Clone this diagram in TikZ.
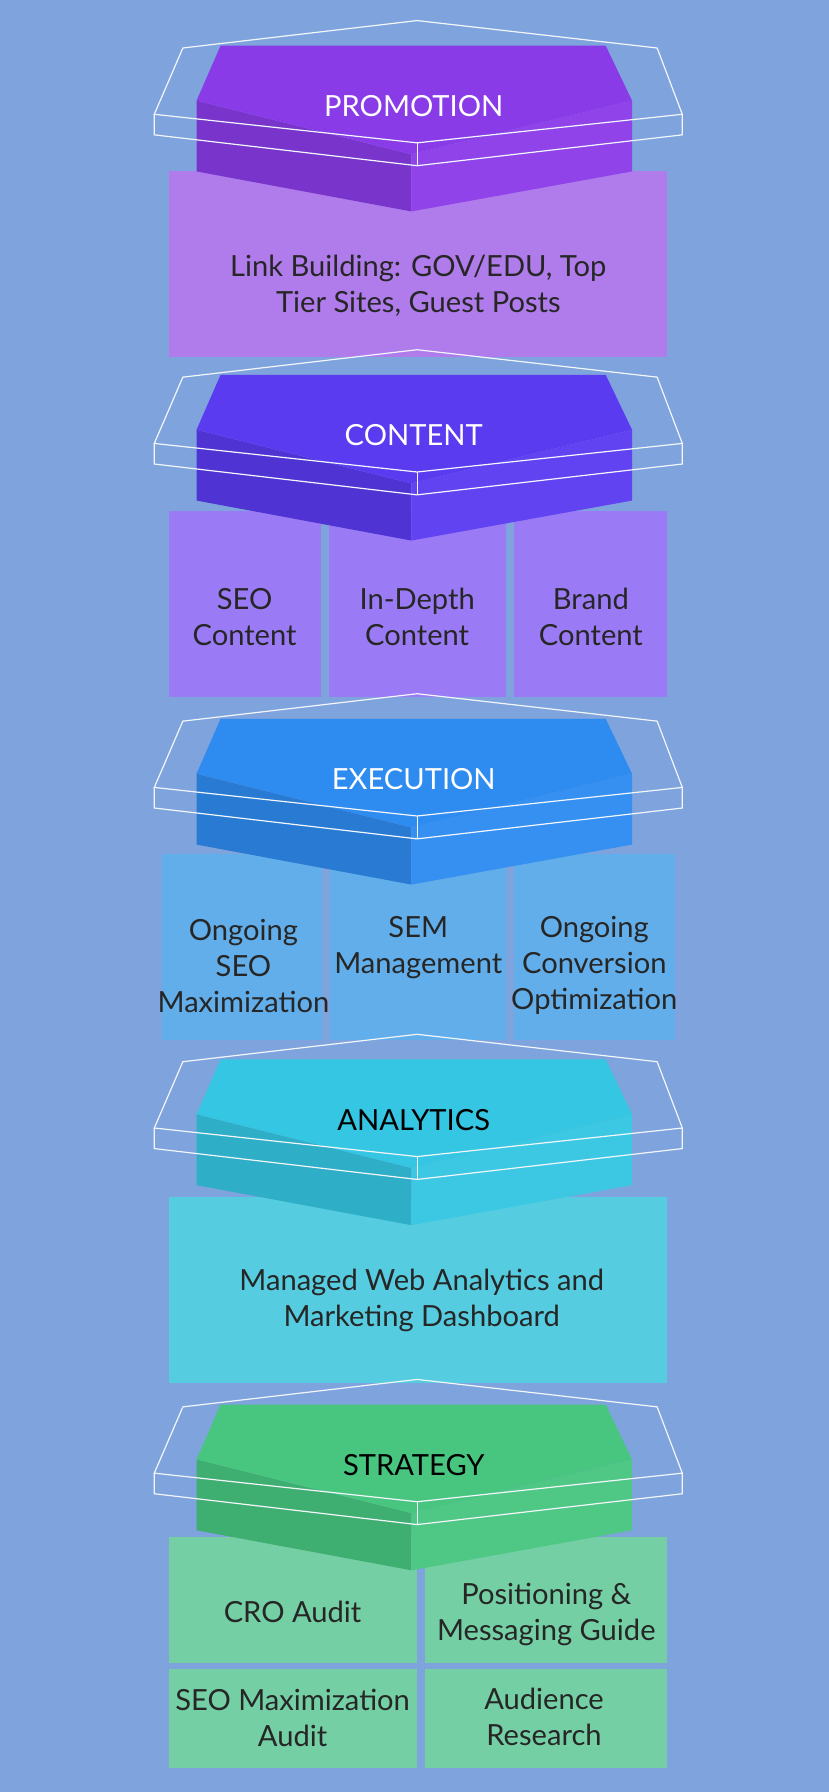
\documentclass[tikz,border=0pt]{standalone}
\usepackage{fontspec}
\setmainfont{Lato}
\usepackage{xcolor}
\definecolor{bgblue}{HTML}{7FA3DC}
\definecolor{promohex}{HTML}{8A3BE8}
\definecolor{promobox}{HTML}{B07BEA}
\definecolor{conthex}{HTML}{5B3BF0}
\definecolor{contbox}{HTML}{9B7BF5}
\definecolor{exechex}{HTML}{2E8BF0}
\definecolor{execbox}{HTML}{62AEEA}
\definecolor{analhex}{HTML}{34C6E2}
\definecolor{analbox}{HTML}{56CCE0}
\definecolor{strahex}{HTML}{48C680}
\definecolor{strabox}{HTML}{74CFA4}
\tikzset{
  boxtext/.style={align=center, text=black!85, font=\fontsize{14.5}{18}\selectfont},
  titletext/.style={font=\fontsize{14.5}{17}\selectfont},
  wire/.style={draw=white!90!bgblue, line width=0.6pt}
}
% one hexagonal slab; #1 = y of title, #2 = colour, #3 = title, #4 = title colour
\newcommand\seolayer[5]{%
  \begin{scope}[shift={(0,#1)}]
    \fill[#2!88!black] (172,-5) -- (360,42) -- (360,92) -- (172,57) -- cycle;
    \fill[#2!96!white] (360,42) -- (553,-5) -- (553,57) -- (360,92) -- cycle;
    \fill[#2] (193,-53) -- (530,-53) -- (553,-5) -- (360,42) -- (172,-5) -- cycle;
    \draw[wire] (160,-51) -- (365,-75) -- (575,-51) -- (597,7) -- (365,32) -- (135,7) -- cycle;
    \draw[wire] (135,7) -- (135,25) -- (365,52) -- (597,25) -- (597,7);
    \draw[wire] (365,32) -- (365,52);
    \node[titletext, text=#4] (#5) at (362,0) {#3};
  \end{scope}}
\begin{document}
\begin{tikzpicture}[x=0.02cm, y=-0.02cm]
  \fill[bgblue] (0,0) rectangle (725,1568);
  \useasboundingbox (0,0) rectangle (725,1568);

  % boxes
  \fill[promobox] (148,150) rectangle (584,312);
  \node[boxtext] (linkb) at (366,250) {Link Building: GOV/EDU, Top\\Tier Sites, Guest Posts};

  \fill[contbox] (148,447) rectangle (281,610);
  \fill[contbox] (288,447) rectangle (443,610);
  \fill[contbox] (450,447) rectangle (584,610);
  \node[boxtext] (seoc) at (214,540) {SEO\\Content};
  \node[boxtext] (depth) at (365,540) {In-Depth\\Content};
  \node[boxtext] (brand) at (517,540) {Brand\\Content};

  \fill[execbox] (142,747) rectangle (282,910);
  \fill[execbox] (289,747) rectangle (443,910);
  \fill[execbox] (450,747) rectangle (591,910);
  \node[boxtext] (ongseo) at (213,845) {Ongoing\\SEO\\Maximization};
  \node[boxtext] (sem) at (366,829) {SEM\\Management};
  \node[boxtext] (ongconv) at (520,845) {Ongoing\\Conversion\\Optimization};

  \fill[analbox] (148,1047) rectangle (584,1210);
  \node[boxtext] (webana) at (369,1138) {Managed Web Analytics and\\Marketing Dashboard};

  \fill[strabox] (148,1345) rectangle (365,1455);
  \fill[strabox] (372,1345) rectangle (584,1455);
  \fill[strabox] (148,1460) rectangle (365,1547);
  \fill[strabox] (372,1460) rectangle (584,1547);
  \node[boxtext] (cro) at (256,1410) {CRO Audit};
  \node[boxtext] (posit) at (478,1413) {Positioning \&\\Messaging Guide};
  \node[boxtext] (seoaud) at (256,1503) {SEO Maximization\\Audit};
  \node[boxtext] (audres) at (476,1502) {Audience\\Research};

  % slabs
  \seolayer{93}{promohex}{PROMOTION}{white}{promo}
  \seolayer{381}{conthex}{CONTENT}{white}{content}
  \seolayer{682}{exechex}{EXECUTION}{white}{exec}
  \seolayer{980}{analhex}{ANALYTICS}{black}{analytics}
  \seolayer{1282}{strahex}{STRATEGY}{black}{strategy}
\end{tikzpicture}
\end{document}
